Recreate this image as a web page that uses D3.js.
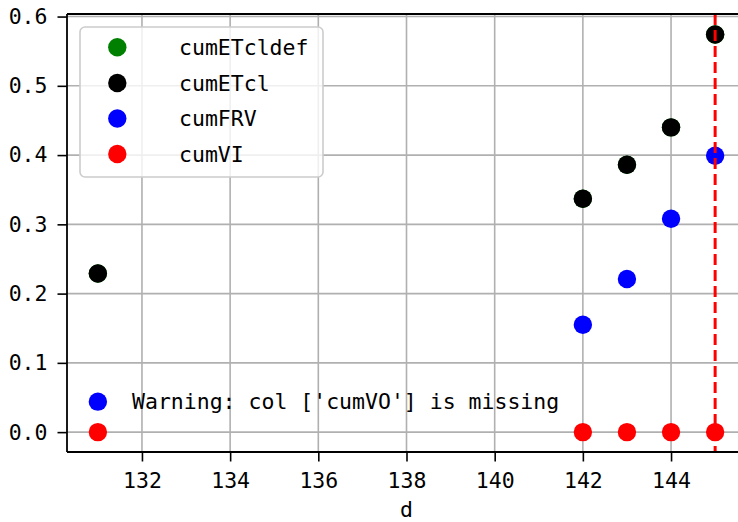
<!DOCTYPE html>
<html>
<head>
<meta charset="utf-8">
<script src="https://cdn.jsdelivr.net/npm/d3@7"></script>
<style>
  html, body { margin: 0; padding: 0; background: #fff; }
  svg { display: block; }
  text { font-family: "DejaVu Sans Mono", "Liberation Mono", monospace; }
</style>
</head>
<body>
<svg id="chart" width="738" height="522"></svg>
<script>
// Cumulative series per day
const days = [131, 142, 143, 144, 145];
const cumETcldef = [0.229, 0.337, 0.386, 0.440, 0.574];
const cumETcl = [0.229, 0.337, 0.386, 0.440, 0.574];
const cumFRV = [null, 0.155, 0.221, 0.308, 0.399];
const cumVI = [0, 0, 0, 0, 0];

const seriesNames = ["cumETcldef", "cumETcl", "cumFRV", "cumVI"];
const seriesColors = ["#008000", "#000000", "#0000ff", "#ff0000"];
const seriesValues = [cumETcldef, cumETcl, cumFRV, cumVI];

const xTicks = [132, 134, 136, 138, 140, 142, 144];
const yTicks = [0.0, 0.1, 0.2, 0.3, 0.4, 0.5, 0.6];
const xDomain = [130.3, 145.7];
const yDomain = [-0.0287, 0.6037];
const markerDay = 145;
const warningText = "Warning: col ['cumVO'] is missing";

const svg = d3.select("#chart");
const plot = { left: 67, right: 746, top: 14, bottom: 452 };
const fontSize = 21.5;

const x = d3.scaleLinear().domain(xDomain).range([plot.left, plot.right]);
const y = d3.scaleLinear().domain(yDomain).range([plot.bottom, plot.top]);

// Grid
const grid = svg.append("g");
grid.selectAll("line.gx").data(xTicks).join("line")
  .attr("x1", d => x(d)).attr("x2", d => x(d))
  .attr("y1", plot.top).attr("y2", plot.bottom)
  .attr("stroke", "#b0b0b0").attr("stroke-width", 1.6);
grid.selectAll("line.gy").data(yTicks).join("line")
  .attr("x1", plot.left).attr("x2", plot.right)
  .attr("y1", d => y(d)).attr("y2", d => y(d))
  .attr("stroke", "#b0b0b0").attr("stroke-width", 1.6);

// Points
const pts = svg.append("g");
seriesValues.forEach((vals, i) => {
  const data = days.map((d, j) => ({ d, v: vals[j] })).filter(p => p.v !== null);
  pts.selectAll(null).data(data).join("circle")
    .attr("cx", p => x(p.d)).attr("cy", p => y(p.v))
    .attr("r", 9.2).attr("fill", seriesColors[i]);
});

// Vertical marker for the current day
svg.append("line")
  .attr("x1", x(markerDay)).attr("x2", x(markerDay))
  .attr("y1", plot.top).attr("y2", plot.bottom)
  .attr("stroke", "#ff0000").attr("stroke-width", 3)
  .attr("stroke-dasharray", "11,5");

// Warning note
const warnY = y(0.044);
svg.append("circle").attr("cx", x(131)).attr("cy", warnY).attr("r", 9.2).attr("fill", "#0000ff");
svg.append("text").attr("x", 132).attr("y", warnY).attr("dy", "0.36em")
  .attr("font-size", fontSize).attr("fill", "#000").text(warningText);

// Axes
const xAxis = d3.axisBottom(x).tickValues(xTicks).tickSize(9.5).tickPadding(11).tickFormat(d3.format("d"));
const yAxis = d3.axisLeft(y).tickValues(yTicks).tickSize(9.5).tickPadding(10).tickFormat(d3.format(".1f"));

const gx = svg.append("g").attr("transform", `translate(0,${plot.bottom})`).call(xAxis);
const gy = svg.append("g").attr("transform", `translate(${plot.left},0)`).call(yAxis);
[gx, gy].forEach(g => {
  g.select(".domain").remove();
  g.selectAll(".tick line").attr("stroke", "#000").attr("stroke-width", 1.6);
  g.selectAll(".tick text").attr("font-size", fontSize).attr("fill", "#000")
    .style("font-family", '"DejaVu Sans Mono", monospace');
});

// Spines
const sp = svg.append("g").attr("stroke", "#000").attr("stroke-width", 1.8).attr("fill", "none");
sp.append("line").attr("x1", plot.left).attr("x2", plot.left).attr("y1", plot.top).attr("y2", plot.bottom);
sp.append("line").attr("x1", plot.left).attr("x2", plot.right).attr("y1", plot.bottom).attr("y2", plot.bottom);
sp.append("line").attr("x1", plot.left).attr("x2", plot.right).attr("y1", plot.top).attr("y2", plot.top);
sp.append("line").attr("x1", plot.right).attr("x2", plot.right).attr("y1", plot.top).attr("y2", plot.bottom);

// X label
svg.append("text").attr("x", (plot.left + plot.right) / 2).attr("y", 517)
  .attr("text-anchor", "middle").attr("font-size", fontSize).text("d");

// Legend
const lg = svg.append("g");
lg.append("rect").attr("x", 80).attr("y", 27).attr("width", 243).attr("height", 150)
  .attr("rx", 5).attr("fill", "rgba(255,255,255,0.8)").attr("stroke", "#cccccc").attr("stroke-width", 1.6);
const rowY = [47.3, 83, 118.5, 154];
seriesNames.forEach((name, i) => {
  lg.append("circle").attr("cx", 117.3).attr("cy", rowY[i]).attr("r", 9.2).attr("fill", seriesColors[i]);
  lg.append("text").attr("x", 179).attr("y", rowY[i]).attr("dy", "0.36em")
    .attr("font-size", fontSize).attr("fill", "#000").text(name);
});
</script>
</body>
</html>
